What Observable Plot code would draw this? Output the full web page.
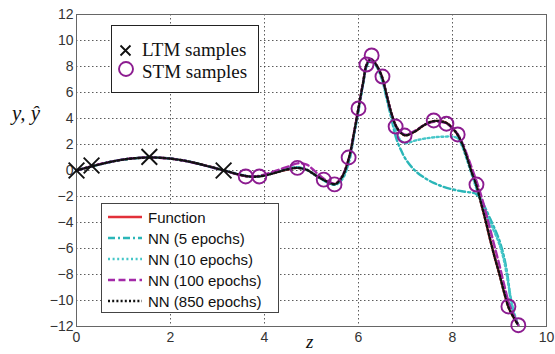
<!DOCTYPE html>
<html><head><meta charset="utf-8">
<script src="https://cdn.jsdelivr.net/npm/d3@7"></script>
<script src="https://cdn.jsdelivr.net/npm/@observablehq/plot@0.6"></script>
<style>
body{margin:0;background:#fff;}
#wrap{position:relative;width:555px;height:354px;}
</style></head><body>
<div id="wrap"></div>
<script>
const xTicks = [0,2,4,6,8,10];
const yTicks = [-12,-10,-8,-6,-4,-2,0,2,4,6,8,10,12];

const fnX = [0,0.4,0.8,1.2,1.6,2.0,2.4,2.8,3.2,3.5,3.7,3.9,4.1,4.3,4.5,4.7,4.9,5.1,5.3,5.5,5.65,5.8,5.9,6.0,6.1,6.17,6.25,6.32,6.4,6.5,6.6,6.7,6.8,6.9,7.0,7.2,7.4,7.6,7.8,7.9,8.0,8.1,8.2,8.3,8.4,8.5,8.6,8.7,8.8,8.9,9.0,9.1,9.2,9.3,9.4];
const fnY = [0,0.39,0.72,0.93,1.0,0.91,0.68,0.33,-0.06,-0.35,-0.47,-0.45,-0.3,-0.1,0.1,0.2,0.05,-0.4,-0.8,-1.05,-0.5,1.0,2.8,4.8,6.8,8.1,8.55,8.4,8.0,7.2,5.8,4.4,3.4,2.9,2.7,3.0,3.5,3.8,3.75,3.6,3.25,2.8,2.1,1.1,-0.05,-1.05,-2.4,-3.8,-5.3,-6.7,-8.0,-9.4,-10.6,-11.3,-11.9];

const nn5X = [0,0.4,0.8,1.2,1.6,2.0,2.4,2.8,3.2,3.5,3.7,3.9,4.1,4.3,4.5,4.7,4.9,5.1,5.3,5.5,5.65,5.8,5.9,6.0,6.1,6.17,6.25,6.32,6.4,6.5,6.6,6.7,6.8,6.9,7.0,7.2,7.4,7.6,7.8,8.0,8.2,8.4,8.5,8.6,8.7,8.8,8.9,9.0,9.1,9.18,9.24,9.32,9.4];
const nn5Y = [0,0.38,0.72,0.93,1.0,0.92,0.68,0.32,-0.05,-0.33,-0.45,-0.43,-0.28,-0.05,0.15,0.25,0.05,-0.4,-0.85,-1.1,-0.7,0.7,2.6,4.6,6.7,8.0,8.5,8.35,7.9,7.0,5.5,4.0,2.5,1.6,0.9,0.0,-0.55,-0.95,-1.25,-1.45,-1.6,-1.7,-1.8,-2.2,-2.9,-3.7,-4.5,-5.4,-6.7,-8.3,-10.0,-11.2,-11.9];

const nn10X = [0,0.4,0.8,1.2,1.6,2.0,2.4,2.8,3.2,3.5,3.7,3.9,4.1,4.3,4.5,4.7,4.9,5.1,5.3,5.5,5.65,5.8,5.9,6.0,6.1,6.17,6.25,6.32,6.4,6.5,6.6,6.7,6.8,6.9,7.0,7.2,7.4,7.6,7.8,8.0,8.1,8.2,8.3,8.4,8.5,8.6,8.7,8.8,8.9,9.0,9.1,9.2,9.3,9.4];
const nn10Y = [0,0.39,0.72,0.93,1.0,0.91,0.68,0.33,-0.06,-0.34,-0.46,-0.44,-0.3,-0.08,0.12,0.22,0.05,-0.4,-0.82,-1.08,-0.6,0.9,2.7,4.7,6.7,8.05,8.5,8.35,7.95,7.1,5.7,4.3,3.0,2.3,2.1,2.3,2.45,2.55,2.6,2.6,2.5,1.9,0.9,-0.2,-1.3,-2.3,-3.2,-4.0,-4.8,-5.7,-7.0,-9.0,-10.8,-11.9];

const nn100X = [0,0.4,0.8,1.2,1.6,2.0,2.4,2.8,3.2,3.5,3.7,3.9,4.1,4.3,4.5,4.7,4.9,5.1,5.3,5.5,5.65,5.8,5.9,6.0,6.1,6.17,6.25,6.32,6.4,6.5,6.6,6.7,6.8,6.9,7.0,7.2,7.4,7.6,7.8,7.9,8.0,8.1,8.2,8.3,8.4,8.5,8.6,8.7,8.8,8.9,9.0,9.1,9.2,9.3,9.4];
const nn100Y = [0,0.4,0.73,0.94,1.0,0.91,0.67,0.32,-0.07,-0.36,-0.45,-0.4,-0.2,0.05,0.3,0.55,0.45,-0.15,-0.72,-1.0,-0.45,1.0,2.8,4.8,6.8,8.15,8.6,8.45,8.0,7.2,5.8,4.4,3.4,2.95,2.75,3.05,3.5,3.75,3.7,3.55,3.25,2.85,2.2,1.3,0.3,-0.7,-1.8,-3.1,-4.5,-5.9,-7.3,-8.8,-10.2,-11.1,-11.9];

const nn850X = [0,0.4,0.8,1.2,1.6,2.0,2.4,2.8,3.2,3.5,3.7,3.9,4.1,4.3,4.5,4.7,4.9,5.1,5.3,5.5,5.65,5.8,5.9,6.0,6.1,6.17,6.25,6.32,6.4,6.5,6.6,6.7,6.8,6.9,7.0,7.2,7.4,7.6,7.8,7.9,8.0,8.1,8.2,8.3,8.4,8.5,8.6,8.7,8.8,8.9,9.0,9.1,9.2,9.3,9.4];
const nn850Y = [0,0.39,0.72,0.93,1.0,0.91,0.68,0.33,-0.06,-0.35,-0.47,-0.45,-0.3,-0.1,0.1,0.2,0.05,-0.4,-0.8,-1.05,-0.5,1.0,2.8,4.8,6.8,8.1,8.55,8.4,8.0,7.2,5.8,4.4,3.4,2.9,2.7,3.0,3.5,3.8,3.75,3.6,3.25,2.8,2.1,1.1,-0.05,-1.05,-2.4,-3.8,-5.3,-6.7,-8.0,-9.4,-10.6,-11.3,-11.9];

const ltmX = [0,0.32,1.55,3.13];
const ltmY = [0,0.38,1.05,0];

const stmX = [3.6,3.89,4.7,5.26,5.49,5.79,6.0,6.17,6.28,6.51,6.79,6.98,7.6,7.87,8.11,8.51,9.19,9.4];
const stmY = [-0.46,-0.46,0.2,-0.7,-1.07,1.0,4.77,8.15,8.85,7.23,3.38,2.69,3.85,3.6,2.77,-1.08,-10.46,-11.9];

const seriesNames = ["Function","NN (5 epochs)","NN (10 epochs)","NN (100 epochs)","NN (850 epochs)"];
const seriesColors = ["#e2303a","#2bb6b8","#45c6c8","#a42aa8","#111111"];
const seriesDash = [null,"7,3,2,3","2,2.6","7,3.5","2,2.2"];
const legend1 = ["LTM samples","STM samples"];

const toRows = (xs, ys) => xs.map((x,i)=>({x, y: ys[i]}));
const series = [toRows(fnX,fnY),toRows(nn5X,nn5Y),toRows(nn10X,nn10Y),toRows(nn100X,nn100Y),toRows(nn850X,nn850Y)];

const lineMarks = series.map((rows,i)=>Plot.line(rows,{x:"x",y:"y",curve:"catmull-rom",stroke:seriesColors[i],strokeWidth:2.4,strokeDasharray:seriesDash[i]}));

const chart = Plot.plot({
  width:555, height:354,
  marginLeft:76, marginRight:9, marginTop:14, marginBottom:28,
  x:{domain:[0,10]}, y:{domain:[-12,12]},
  style:{fontFamily:"Arial, 'Liberation Sans', sans-serif", fontSize:"14px", color:"#333", background:"#fff"},
  marks:[
    Plot.gridX(xTicks,{stroke:"#333",strokeOpacity:0.8,strokeDasharray:"1.5,2.5",strokeWidth:1}),
    Plot.gridY(yTicks,{stroke:"#333",strokeOpacity:0.8,strokeDasharray:"1.5,2.5",strokeWidth:1}),
    Plot.frame({stroke:"#666"}),
    Plot.axisX(xTicks,{tickSize:0,tickPadding:6,label:null,fill:"#333"}),
    Plot.axisY(yTicks,{tickSize:0,tickPadding:3,label:null,fill:"#333"}),
    ...lineMarks,
    Plot.dot(toRows(ltmX,ltmY),{x:"x",y:"y",symbol:"times",r:7.2,stroke:"#111",strokeWidth:1.9}),
    Plot.dot(toRows(stmX,stmY),{x:"x",y:"y",r:7,stroke:"#8c1c90",strokeWidth:1.9,fill:"none"})
  ]
});
const wrap = document.getElementById("wrap");
wrap.appendChild(chart);

// overlay: axis labels and legends
const ov = d3.select(wrap).append("svg").attr("width",555).attr("height",354)
  .style("position","absolute").style("left","0").style("top","0").style("pointer-events","none");

ov.append("text").attr("x",12).attr("y",120).attr("font-family","'Liberation Serif','Times New Roman',serif")
  .attr("font-style","italic").attr("font-size",21).attr("fill","#111").text("y, ŷ");
ov.append("text").attr("x",306).attr("y",348).attr("font-family","'Liberation Serif','Times New Roman',serif")
  .attr("font-style","italic").attr("font-size",19).attr("fill","#111").text("z");

// legend 1
const l1 = ov.append("g");
l1.append("rect").attr("x",111.5).attr("y",25.5).attr("width",147).attr("height",67).attr("fill","#fff").attr("stroke","#222").attr("stroke-width",1);
l1.append("path").attr("d","M120.5,45.5L130.5,55.5M130.5,45.5L120.5,55.5").attr("stroke","#111").attr("stroke-width",1.8);
l1.append("circle").attr("cx",126).attr("cy",69).attr("r",7).attr("fill","none").attr("stroke","#8c1c90").attr("stroke-width",1.9);
legend1.forEach((t,i)=>{
  l1.append("text").attr("x",142).attr("y",56+i*22).attr("font-family","'Liberation Serif','Times New Roman',serif")
    .attr("font-size",19).attr("fill","#111").text(t);
});

// legend 2
const l2 = ov.append("g");
l2.append("rect").attr("x",101.5).attr("y",203.5).attr("width",177).attr("height",109).attr("fill","#fff").attr("stroke","#444").attr("stroke-width",1);
seriesNames.forEach((t,i)=>{
  const cy = 217 + i*21;
  const ln = l2.append("line").attr("x1",108).attr("x2",142).attr("y1",cy).attr("y2",cy)
    .attr("stroke",seriesColors[i]).attr("stroke-width",2.4);
  if (seriesDash[i]) ln.attr("stroke-dasharray",seriesDash[i]);
  l2.append("text").attr("x",148).attr("y",cy+5.5).attr("font-family","Arial,'Liberation Sans',sans-serif")
    .attr("font-size",15).attr("fill","#111").text(t);
});
</script>
</body></html>
